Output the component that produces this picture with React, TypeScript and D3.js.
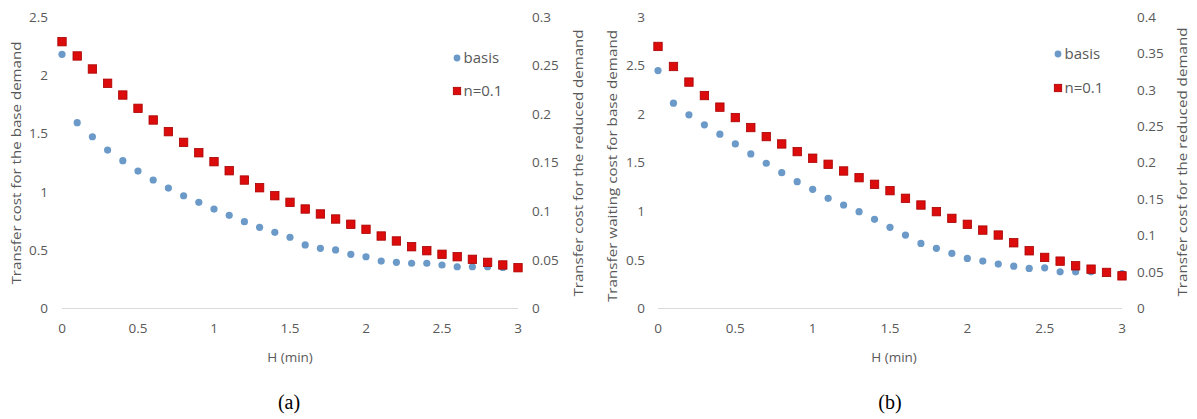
import React from "react";
import * as d3 from "d3";

const H = [0, 0.1, 0.2, 0.3, 0.4, 0.5, 0.6, 0.7, 0.8, 0.9, 1.0, 1.1, 1.2, 1.3, 1.4, 1.5, 1.6, 1.7, 1.8, 1.9, 2.0, 2.1, 2.2, 2.3, 2.4, 2.5, 2.6, 2.7, 2.8, 2.9, 3.0];

const basisA = [2.18, 1.594, 1.473, 1.359, 1.268, 1.179, 1.102, 1.033, 0.967, 0.911, 0.853, 0.799, 0.745, 0.696, 0.653, 0.611, 0.545, 0.516, 0.502, 0.465, 0.444, 0.407, 0.396, 0.388, 0.388, 0.373, 0.358, 0.358, 0.358, 0.352, 0.35];
const reducedA = [0.2746, 0.2599, 0.2465, 0.2318, 0.2197, 0.206, 0.194, 0.182, 0.171, 0.1603, 0.1511, 0.1418, 0.1322, 0.1243, 0.1161, 0.1093, 0.1024, 0.0973, 0.0921, 0.0867, 0.0815, 0.0746, 0.0695, 0.0636, 0.0595, 0.0558, 0.0533, 0.0506, 0.0475, 0.0448, 0.042];

const basisB = [2.449, 2.113, 1.993, 1.89, 1.794, 1.694, 1.591, 1.495, 1.398, 1.305, 1.227, 1.134, 1.065, 0.996, 0.918, 0.835, 0.756, 0.67, 0.619, 0.567, 0.515, 0.488, 0.457, 0.436, 0.412, 0.419, 0.377, 0.377, 0.377, 0.37, 0.36];
const reducedB = [0.3596, 0.3321, 0.3107, 0.2922, 0.2763, 0.262, 0.2483, 0.2359, 0.2258, 0.2153, 0.2062, 0.1979, 0.1887, 0.1795, 0.1704, 0.1617, 0.1512, 0.142, 0.1329, 0.1237, 0.1155, 0.1076, 0.1008, 0.0902, 0.0792, 0.0701, 0.065, 0.0586, 0.054, 0.0495, 0.0448];

const xTicks = [0, 0.5, 1, 1.5, 2, 2.5, 3];
const leftTicksA = [0, 0.5, 1, 1.5, 2, 2.5];
const rightTicksA = [0, 0.05, 0.1, 0.15, 0.2, 0.25, 0.3];
const leftTicksB = [0, 0.5, 1, 1.5, 2, 2.5, 3];
const rightTicksB = [0, 0.05, 0.1, 0.15, 0.2, 0.25, 0.3, 0.35, 0.4];

const seriesNames = ["basis", "n=0.1"];

const FONT = "'Open Sans', 'Noto Sans', sans-serif";
const GRAY = "#595959";
const BLUE = "#6b9ac8";
const RED = "#dc0c0c";
const RED_STROKE = "#a80000";

type PanelProps = {
  x0: number; x1: number; yTop: number; yBot: number;
  leftMax: number; rightMax: number;
  leftTicks: number[]; rightTicks: number[];
  basis: number[]; reduced: number[];
  leftTitle: string; rightTitle: string;
  leftTitleLen: number; rightTitleLen: number;
  leftTitleY: number; rightTitleY: number;
  leftTitleX: number; rightTitleX: number;
  leftLabelX: number; rightLabelX: number;
  legendX: number; legendY1: number; legendY2: number;
  xTitleX: number; caption: string; captionX: number;
};

function Panel(p: PanelProps) {
  const x = d3.scaleLinear().domain([0, 3]).range([p.x0, p.x1]);
  const yL = d3.scaleLinear().domain([0, p.leftMax]).range([p.yBot, p.yTop]);
  const yR = d3.scaleLinear().domain([0, p.rightMax]).range([p.yBot, p.yTop]);
  const fmt = (v: number) => String(+v.toFixed(2));
  const TS = 13.5;
  return (
    <g fontFamily={FONT}>
      <line x1={p.x0} x2={p.x1} y1={p.yBot} y2={p.yBot} stroke="#d9d9d9" strokeWidth={1} />
      {xTicks.map((t) => (
        <text key={"x" + t} x={x(t)} y={328} dy="0.35em" textAnchor="middle" fontSize={TS} fill={GRAY}>{fmt(t)}</text>
      ))}
      {p.leftTicks.map((t) => (
        <text key={"l" + t} x={p.leftLabelX} y={yL(t)} dy="0.35em" textAnchor="end" fontSize={TS} fill={GRAY}>{fmt(t)}</text>
      ))}
      {p.rightTicks.map((t) => (
        <text key={"r" + t} x={p.rightLabelX} y={yR(t)} dy="0.35em" textAnchor="start" fontSize={TS} fill={GRAY}>{fmt(t)}</text>
      ))}
      <text transform={`translate(${p.leftTitleX},${p.leftTitleY}) rotate(-90)`} textAnchor="middle" dy="0.35em" fontSize={13.5} fill={GRAY} textLength={p.leftTitleLen} lengthAdjust="spacingAndGlyphs">{p.leftTitle}</text>
      <text transform={`translate(${p.rightTitleX},${p.rightTitleY}) rotate(-90)`} textAnchor="middle" dy="0.35em" fontSize={13.5} fill={GRAY} textLength={p.rightTitleLen} lengthAdjust="spacingAndGlyphs">{p.rightTitle}</text>
      <text x={p.xTitleX} y={357.5} dy="0.35em" textAnchor="middle" fontSize={13.5} fill={GRAY}>H (min)</text>
      {H.map((h, i) => (
        <circle key={"b" + i} cx={x(h)} cy={yL(p.basis[i])} r={3.6} fill={BLUE} />
      ))}
      {H.map((h, i) => (
        <rect key={"n" + i} x={x(h) - 4.2} y={yR(p.reduced[i]) - 4.2} width={8.4} height={8.4} fill={RED} stroke={RED_STROKE} strokeWidth={0.8} />
      ))}
      <circle cx={p.legendX} cy={p.legendY1} r={3.4} fill={BLUE} />
      <text x={p.legendX + 6.5} y={p.legendY1} dy="0.35em" fontSize={15} fill={GRAY}>{seriesNames[0]}</text>
      <rect x={p.legendX - 3.7} y={p.legendY2 - 3.7} width={7.4} height={7.4} fill={RED} stroke={RED_STROKE} strokeWidth={0.8} />
      <text x={p.legendX + 6.5} y={p.legendY2} dy="0.35em" fontSize={15} fill={GRAY}>{seriesNames[1]}</text>
      <text x={p.captionX} y={402} dy="0.35em" textAnchor="middle" fontSize={20} fontFamily="'Liberation Serif', 'DejaVu Serif', serif" fill="#000">{p.caption}</text>
    </g>
  );
}

export default function App() {
  return (
    <svg width={1197} height={419} style={{ position: "absolute", left: 0, top: 0, background: "#fff" }}>
      <rect width={1197} height={419} fill="#fff" />
      <Panel
        x0={62} x1={518} yTop={17} yBot={308.5}
        leftMax={2.5} rightMax={0.3}
        leftTicks={leftTicksA} rightTicks={rightTicksA}
        basis={basisA} reduced={reducedA}
        leftTitle="Transfer cost for the base demand"
        rightTitle="Transfer cost for the reduced demand"
        leftTitleLen={243} rightTitleLen={267}
        leftTitleY={163} rightTitleY={163}
        leftTitleX={16} rightTitleX={578}
        leftLabelX={48} rightLabelX={532}
        legendX={457} legendY1={58} legendY2={91}
        xTitleX={290} caption="(a)" captionX={289}
      />
      <Panel
        x0={658} x1={1122} yTop={17} yBot={308.5}
        leftMax={3} rightMax={0.4}
        leftTicks={leftTicksB} rightTicks={rightTicksB}
        basis={basisB} reduced={reducedB}
        leftTitle="Transfer waiting cost for base demand"
        rightTitle="Transfer cost for the reduced demand"
        leftTitleLen={272} rightTitleLen={269}
        leftTitleY={166} rightTitleY={162}
        leftTitleX={612} rightTitleX={1182}
        leftLabelX={645} rightLabelX={1137}
        legendX={1058} legendY1={54} legendY2={88}
        xTitleX={894} caption="(b)" captionX={890}
      />
    </svg>
  );
}
